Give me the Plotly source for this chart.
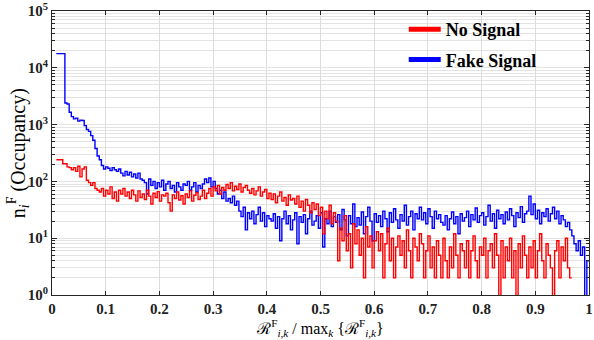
import numpy as np
import plotly.graph_objects as go

# Histogram bins: left edge of first bin and bin width (x = R / max R)
BIN_START = 0.008
BIN_WIDTH = 0.004

# Occupancy per bin, "Fake Signal" (blue)
fake_signal = [
    17800, 17800, 17800, 17800, 2400, 2300, 1650, 1380, 1260, 1300,
    1150, 1200, 1180, 960, 820, 760, 640, 530, 380, 280,
    240, 190, 165, 180, 170, 155, 175, 160, 150, 165,
    140, 125, 150, 130, 145, 120, 135, 115, 140, 110,
    105, 95, 60, 110, 85, 100, 75, 95, 80, 105,
    70, 90, 100, 75, 85, 65, 95, 80, 70, 90,
    85, 100, 70, 80, 95, 65, 85, 75, 90, 110,
    95, 115, 80, 100, 75, 60, 70, 50, 65, 45,
    50, 42, 55, 38, 45, 30, 24, 35, 14, 28,
    22, 30, 18, 26, 35, 20, 28, 16, 25, 22,
    20, 27, 15, 24, 9, 22, 30, 18, 25, 14,
    21, 28, 8, 24, 19, 26, 12, 22, 30, 17,
    20, 25, 15, 28, 7, 22, 18, 30, 16, 24,
    19, 26, 14, 32, 21, 11, 25, 18, 40, 16,
    23, 17, 29, 12, 24, 35, 20, 9, 27, 19,
    25, 16, 30, 22, 13, 28, 19, 33, 21, 15,
    26, 20, 38, 17, 24, 30, 14, 27, 22, 35,
    21, 28, 18, 33, 24, 15, 30, 22, 26, 19,
    17, 25, 14, 22, 29, 18, 24, 12, 27, 20,
    23, 30, 16, 26, 21, 34, 19, 25, 28, 17,
    24, 38, 20, 27, 15, 31, 22, 26, 18, 29,
    21, 33, 25, 16, 28, 23, 36, 19, 27, 30,
    55, 26, 40, 22, 31, 18, 28, 24, 33, 20,
    27, 35, 22, 30, 18, 25, 21, 16, 19, 14,
    11, 8, 6, 9, 5, 7, 0, 4,
]

# Occupancy per bin, "No Signal" (red)
no_signal = [
    240, 240, 240, 205, 205, 180, 175, 160, 175, 150,
    185, 120, 165, 180, 105, 95, 85, 95, 75, 70,
    65, 75, 55, 70, 60, 80, 50, 65, 45, 70,
    60, 75, 55, 65, 50, 70, 58, 45, 68, 52,
    60, 48, 70, 55, 40, 62, 52, 66, 45, 58,
    55, 62, 42, 30, 58, 50, 65, 47, 56, 40,
    60, 52, 68, 45, 57, 63, 48, 55, 70, 50,
    62, 75, 55, 80, 68, 85, 60, 78, 70, 88,
    75, 95, 68, 82, 72, 90, 65, 78, 85, 70,
    62, 75, 58, 68, 80, 55, 65, 72, 50, 62,
    48, 60, 42, 55, 65, 45, 52, 38, 58, 47,
    50, 40, 55, 35, 45, 30, 48, 38, 28, 42,
    32, 40, 25, 35, 12, 30, 22, 38, 18, 28,
    20, 4, 15, 9, 25, 6, 12, 3, 18, 8,
    14, 5, 10, 2, 16, 7, 11, 3, 9, 13,
    6, 12, 2, 8, 15, 4, 10, 2, 7, 11,
    5, 9, 3, 14, 6, 2, 10, 7, 4, 12,
    8, 2, 6, 11, 3, 7, 2, 9, 5, 2,
    10, 4, 2, 7, 3, 12, 5, 2, 8, 6,
    3, 9, 2, 6, 11, 4, 2, 7, 5, 10,
    2, 6, 8, 3, 12, 5, 0, 9, 2, 7,
    4, 10, 2, 6, 0, 8, 3, 11, 5, 2,
    7, 3, 9, 2, 6, 12, 4, 2, 8, 5,
    3, 0, 6, 9, 2, 7, 4, 10, 3, 2,
]

x_tick_vals = [0, 0.1, 0.2, 0.3, 0.4, 0.5, 0.6, 0.7, 0.8, 0.9, 1.0]
x_tick_text = ["0", "0.1", "0.2", "0.3", "0.4", "0.5", "0.6", "0.7", "0.8", "0.9", "1"]
y_tick_vals = [1, 10, 100, 1000, 10000, 100000]
y_tick_text = ["10<sup>0</sup>", "10<sup>1</sup>", "10<sup>2</sup>",
               "10<sup>3</sup>", "10<sup>4</sup>", "10<sup>5</sup>"]

RED = "#ff0000"
BLUE = "#0000ff"
SERIF = "Liberation Serif, Times New Roman, serif"


def step_xy(counts):
    c = np.asarray(counts, dtype=float)
    edges = BIN_START + BIN_WIDTH * np.arange(len(c) + 1)
    # empty bins drop below the log axis floor
    c = np.where(c > 0, c, 0.3)
    y = np.append(c, c[-1])
    return edges, y


fig = go.Figure()

bx, by = step_xy(fake_signal)
rx, ry = step_xy(no_signal)

fig.add_trace(go.Scatter(x=bx, y=by, mode="lines", line=dict(color=BLUE, width=1.4, shape="hv"),
                         showlegend=False, hoverinfo="skip"))
fig.add_trace(go.Scatter(x=rx, y=ry, mode="lines", line=dict(color=RED, width=1.4, shape="hv"),
                         showlegend=False, hoverinfo="skip"))

# legend entries with thick line samples
fig.add_trace(go.Scatter(x=[None], y=[None], mode="lines", name="No Signal",
                         line=dict(color=RED, width=5), legendgroup="a"))
fig.add_trace(go.Scatter(x=[None], y=[None], mode="lines", name="Fake Signal",
                         line=dict(color=BLUE, width=5), legendgroup="b"))

grid = "#e3e3e3"
axis_line = "#262626"

fig.update_layout(
    width=594, height=340,
    margin=dict(l=52, r=1, t=10, b=45),
    plot_bgcolor="white", paper_bgcolor="white",
    font=dict(family=SERIF, color="black"),
    legend=dict(x=0.655, y=1.0, xanchor="left", yanchor="top",
                bgcolor="rgba(0,0,0,0)", borderwidth=0,
                font=dict(family=SERIF, size=18, weight="bold", color="black"),
                itemwidth=32, tracegroupgap=4, traceorder="grouped"),
    xaxis=dict(
        range=[0, 1], tickvals=x_tick_vals, ticktext=x_tick_text,
        ticks="inside", ticklen=4, tickcolor=axis_line,
        showline=True, linecolor=axis_line, linewidth=1, mirror="allticks",
        showgrid=True, gridcolor="#dcdcdc", gridwidth=1, zeroline=False,
        ticklabeloverflow="allow",
        tickfont=dict(family=SERIF, size=15, weight="bold", color="#222"),
        title=dict(text="ℛ<sup>F</sup><sub><i>i,k</i></sub> / max<sub><i>k</i></sub> {ℛ<sup>F</sup><sub><i>i,k</i></sub>}",
                   font=dict(family=SERIF, size=16, color="black"), standoff=4),
    ),
    yaxis=dict(
        type="log", range=[0, 5], tickvals=y_tick_vals, ticktext=y_tick_text,
        ticks="inside", ticklen=5, tickcolor=axis_line,
        showline=True, linecolor=axis_line, linewidth=1, mirror="allticks",
        showgrid=True, gridcolor=grid, gridwidth=1, zeroline=False,
        ticklabeloverflow="allow",
        tickfont=dict(family=SERIF, size=15, weight="bold", color="#222"),
        minor=dict(ticks="inside", ticklen=3, tickcolor=axis_line, showgrid=True,
                   gridcolor=grid, gridwidth=1,
                   tickvals=[k * 10 ** p for p in range(5) for k in range(2, 10)]),
    ),
    annotations=[dict(
        text="n<sub><i>i</i></sub><sup>F</sup> (Occupancy)",
        xref="paper", yref="paper", x=-0.063, y=0.5, xanchor="center", yanchor="middle",
        textangle=-90, showarrow=False,
        font=dict(family=SERIF, size=20, color="black"),
    )],
)

fig.write_html("out.html",
               config={"displayModeBar": False},
               post_script="document.body.style.margin='0';document.body.style.overflow='hidden';")
